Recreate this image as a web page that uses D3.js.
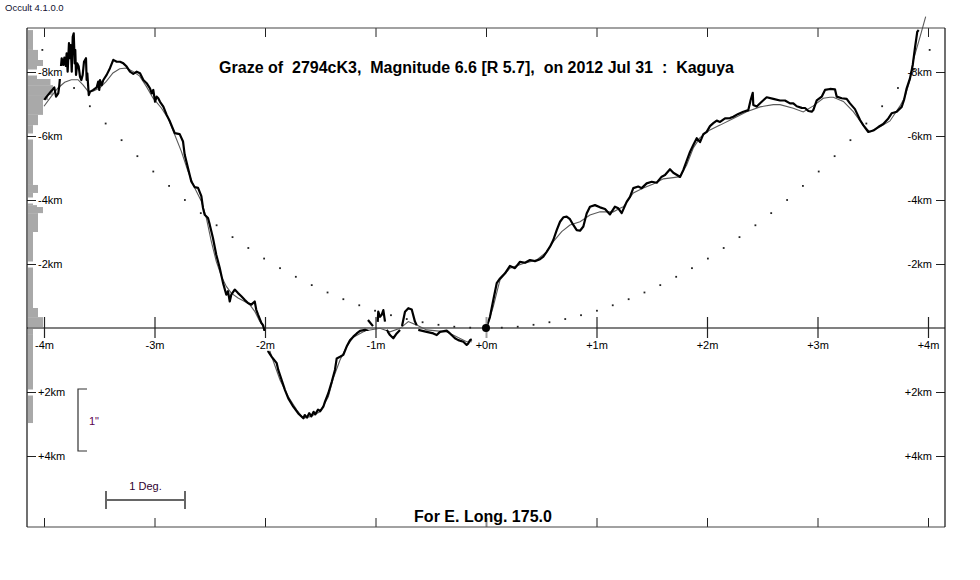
<!DOCTYPE html>
<html><head><meta charset="utf-8">
<script src="https://cdn.jsdelivr.net/npm/d3@7"></script>
<style>
body{margin:0;background:#fff;}
svg{display:block;font-family:"Liberation Sans",Arial,sans-serif;}
</style></head><body>
<svg id="c" width="980" height="580"></svg>
<script>
// ---------- data ----------
const minuteTicks=[-4,-3,-2,-1,0,1,2,3,4];
const minuteLabels=["-4m","-3m","-2m","-1m","+0m","+1m","+2m","+3m","+4m"];
const kmTicks=[-8,-6,-4,-2,2,4];
const kmLabels=["-8km","-6km","-4km","-2km","+2km","+4km"];
const titleText="Graze of  2794cK3,  Magnitude 6.6 [R 5.7],  on 2012 Jul 31  :  Kaguya";
const footText="For E. Long. 175.0";
const versionText="Occult 4.1.0.0";

// histogram of limb points (km bands, relative counts)
const histTopKm   =[-9.31,-8.69,-8.375,-8.06,-7.91,-7.59,-7.28,-7.125,-6.66,-6.34,-5.94,-4.47,-4.22,-3.84,-3.59,-3.0,-0.625,-0.34,0,0.19];
const histBottomKm=[-8.69,-8.375,-8.06,-7.91,-7.59,-7.28,-7.125,-6.66,-6.34,-5.94,-4.47,-4.22,-3.84,-3.59,-3.0,-0.625,-0.34,0,0.19,2.97];
const histCount   =[2,4,6,7,9,10,8,6,4,2,2,4,2,6,4,2,4,6,2,2];

// graze path dots (minutes, km)
const dotMin=[-4.015,-3.872,-3.728,-3.585,-3.442,-3.298,-3.155,-3.011,-2.868,-2.725,-2.581,-2.438,-2.294,-2.151,-2.008,-1.864,-1.721,-1.577,-1.434,-1.291,-1.147,-1.004,-0.860,-0.717,-0.574,-0.430,-0.287,-0.143,0,0.143,0.287,0.430,0.574,0.717,0.860,1.004,1.147,1.291,1.434,1.577,1.721,1.864,2.008,2.151,2.294,2.438,2.581,2.725,2.868,3.011,3.155,3.298,3.442,3.585,3.728,3.872,4.015];
const dotKm=[-8.69,-8.08,-7.50,-6.93,-6.39,-5.87,-5.37,-4.89,-4.44,-4.00,-3.59,-3.21,-2.84,-2.50,-2.17,-1.87,-1.60,-1.34,-1.11,-0.90,-0.71,-0.54,-0.40,-0.28,-0.18,-0.10,-0.04,-0.01,0,-0.01,-0.04,-0.10,-0.18,-0.28,-0.40,-0.54,-0.71,-0.90,-1.11,-1.34,-1.60,-1.87,-2.17,-2.50,-2.84,-3.21,-3.59,-4.00,-4.44,-4.89,-5.37,-5.87,-6.39,-6.93,-7.50,-8.08,-8.69];

// Kaguya limb profile (thick), segments [minutes, km]
const profileWest=[[-3.997,-7.13],[-3.976,-7.23],[-3.930,-7.42],[-3.907,-7.52],[-3.891,-7.23],[-3.871,-7.33],[-3.862,-7.56],[-3.840,-8.43],[-3.825,-8.22],[-3.816,-8.45],[-3.804,-8.19],[-3.795,-8.58],[-3.786,-8.01],[-3.774,-8.90],[-3.765,-8.43],[-3.758,-8.84],[-3.749,-8.01],[-3.740,-9.10],[-3.731,-9.21],[-3.722,-8.27],[-3.717,-8.69],[-3.710,-7.91],[-3.699,-8.27],[-3.686,-8.17],[-3.674,-7.85],[-3.662,-7.75],[-3.650,-7.91],[-3.638,-8.32],[-3.620,-8.43],[-3.614,-7.75],[-3.608,-7.96],[-3.595,-7.28],[-3.584,-7.38],[-3.554,-7.44],[-3.523,-7.52],[-3.509,-7.70],[-3.500,-7.44],[-3.493,-7.75],[-3.478,-7.59],[-3.463,-7.75],[-3.433,-7.91],[-3.403,-8.12],[-3.373,-8.38],[-3.342,-8.32],[-3.312,-8.32],[-3.282,-8.27],[-3.252,-8.17],[-3.222,-8.01],[-3.192,-7.94],[-3.161,-8.01],[-3.131,-7.96],[-3.101,-7.75],[-3.071,-7.65],[-3.041,-7.49],[-3.025,-7.33],[-3.011,-7.44],[-2.995,-7.07],[-2.980,-7.23],[-2.966,-7.18],[-2.950,-7.07],[-2.920,-6.92],[-2.890,-6.66],[-2.860,-6.45],[-2.817,-6.09],[-2.772,-6.06],[-2.742,-5.83],[-2.727,-5.42],[-2.697,-5.00],[-2.667,-4.58],[-2.636,-4.40],[-2.606,-4.38],[-2.576,-4.12],[-2.561,-3.75],[-2.546,-3.54],[-2.516,-3.44],[-2.500,-3.23],[-2.471,-2.81],[-2.441,-2.29],[-2.410,-1.88],[-2.380,-1.41],[-2.350,-1.04],[-2.335,-1.15],[-2.319,-0.83],[-2.305,-1.04],[-2.274,-1.20],[-2.244,-1.09],[-2.214,-0.99],[-2.184,-0.88],[-2.154,-0.78],[-2.124,-0.73],[-2.093,-0.83],[-2.079,-0.57],[-2.063,-0.42],[-2.033,-0.16],[-2.018,-0.09],[-1.991,0.25],[-1.970,0.74],[-1.939,0.90],[-1.894,1.10],[-1.880,1.31],[-1.849,1.63],[-1.819,1.94],[-1.789,2.20],[-1.744,2.46],[-1.699,2.67],[-1.653,2.82],[-1.640,2.72],[-1.620,2.80],[-1.600,2.66],[-1.580,2.76],[-1.560,2.62],[-1.545,2.70],[-1.520,2.55],[-1.500,2.60],[-1.472,2.46],[-1.457,2.30],[-1.427,2.04],[-1.396,1.68],[-1.367,1.31],[-1.351,0.95],[-1.321,0.90],[-1.291,0.84],[-1.261,0.58],[-1.231,0.38],[-1.201,0.27],[-1.170,0.17],[-1.140,0.09],[-1.095,0.06],[-1.065,0.09]];
const profileMid1=[[-1.068,-0.25],[-1.023,-0.06]];
const profileMid2=[[-0.980,-0.19],[-0.975,-0.51],[-0.959,-0.35],[-0.944,-0.41],[-0.929,-0.56],[-0.914,-0.20]];
const profileMid3=[[-0.899,0.06],[-0.869,0.22],[-0.839,0.32],[-0.808,0.17],[-0.778,0.06]];
const profileMid4=[[-0.760,-0.06],[-0.733,-0.51],[-0.703,-0.62],[-0.672,-0.58],[-0.643,-0.20],[-0.627,-0.09]];
const profileMid5=[[-0.613,0.06],[-0.537,0.12],[-0.477,0.17],[-0.446,0.22],[-0.416,0.12],[-0.356,0.08],[-0.326,0.17],[-0.281,0.32],[-0.251,0.38],[-0.205,0.43],[-0.175,0.53],[-0.160,0.48],[-0.145,0.38],[-0.129,0.35]];
const profileEast=[[0,0],[0.021,-0.19],[0.036,-0.35],[0.066,-0.875],[0.097,-1.40],[0.127,-1.55],[0.172,-1.71],[0.217,-1.94],[0.262,-1.87],[0.308,-2.07],[0.353,-2.04],[0.398,-2.125],[0.443,-2.09],[0.489,-2.15],[0.519,-2.23],[0.549,-2.38],[0.579,-2.54],[0.609,-2.75],[0.640,-3.06],[0.670,-3.32],[0.700,-3.46],[0.730,-3.48],[0.760,-3.40],[0.790,-3.22],[0.821,-3.06],[0.851,-3.04],[0.881,-3.17],[0.911,-3.58],[0.941,-3.79],[0.986,-3.84],[1.032,-3.77],[1.077,-3.72],[1.122,-3.55],[1.167,-3.79],[1.197,-3.74],[1.228,-3.59],[1.273,-3.94],[1.303,-4.10],[1.333,-4.37],[1.378,-4.42],[1.409,-4.37],[1.454,-4.52],[1.500,-4.57],[1.545,-4.54],[1.590,-4.73],[1.620,-4.78],[1.665,-4.96],[1.695,-4.85],[1.729,-4.78],[1.756,-4.72],[1.786,-4.94],[1.816,-5.22],[1.846,-5.50],[1.876,-5.72],[1.907,-5.93],[1.937,-5.81],[1.967,-6.06],[1.997,-6.13],[2.027,-6.31],[2.057,-6.40],[2.088,-6.48],[2.118,-6.44],[2.163,-6.55],[2.208,-6.56],[2.238,-6.60],[2.283,-6.69],[2.329,-6.76],[2.374,-6.81],[2.395,-7.125],[2.414,-7.35],[2.419,-6.97],[2.450,-6.92],[2.495,-7.07],[2.540,-7.21],[2.600,-7.16],[2.661,-7.11],[2.706,-7.11],[2.751,-7.02],[2.781,-7.02],[2.812,-6.93],[2.857,-6.88],[2.887,-6.875],[2.917,-6.78],[2.948,-6.76],[2.962,-6.81],[2.993,-7.11],[3.038,-7.23],[3.068,-7.44],[3.113,-7.47],[3.158,-7.46],[3.174,-7.23],[3.219,-7.18],[3.264,-7.16],[3.294,-7.02],[3.339,-6.84],[3.385,-6.50],[3.414,-6.34],[3.460,-6.125],[3.505,-6.17],[3.550,-6.28],[3.595,-6.375],[3.641,-6.55],[3.671,-6.71],[3.717,-6.76],[3.762,-6.91],[3.783,-7.125],[3.807,-7.49],[3.837,-7.80],[3.862,-8.22],[3.882,-8.75],[3.903,-9.26],[3.916,-9.31]];

// smoothed profile (thin grey), segments [minutes, km]
const smoothWest=[[-4.000,-6.93],[-3.934,-7.24],[-3.873,-7.50],[-3.813,-7.68],[-3.753,-7.76],[-3.692,-7.76],[-3.647,-7.60],[-3.602,-7.40],[-3.557,-7.40],[-3.496,-7.50],[-3.436,-7.71],[-3.376,-7.97],[-3.315,-8.10],[-3.255,-8.125],[-3.195,-8.02],[-3.134,-7.87],[-3.074,-7.55],[-3.014,-7.19],[-2.938,-6.875],[-2.878,-6.56],[-2.817,-6.04],[-2.757,-5.52],[-2.697,-4.90],[-2.636,-4.375],[-2.576,-3.96],[-2.531,-3.44],[-2.486,-2.71],[-2.441,-2.08],[-2.395,-1.62],[-2.350,-1.30],[-2.305,-1.09],[-2.244,-0.94],[-2.184,-0.83],[-2.138,-0.73],[-2.093,-0.52],[-2.048,-0.21],[-2.015,-0.04],[-1.985,0.375],[-1.939,0.90],[-1.864,1.625],[-1.789,2.15],[-1.713,2.56],[-1.653,2.82],[-1.593,2.77],[-1.502,2.62],[-1.427,2.15],[-1.382,1.57],[-1.321,1.00],[-1.261,0.58],[-1.201,0.29],[-1.110,0.12],[-1.050,0.06],[-0.959,0.01],[-0.869,0.12],[-0.778,0.01],[-0.703,-0.20],[-0.627,-0.09],[-0.537,0.06],[-0.356,0.12],[-0.175,0.43],[-0.129,0.43]];
const smoothEast=[[0,0.06],[0.066,-0.67],[0.111,-1.29],[0.127,-1.50],[0.217,-1.87],[0.338,-2.02],[0.459,-2.125],[0.549,-2.38],[0.609,-2.70],[0.685,-3.01],[0.760,-3.22],[0.851,-3.32],[0.941,-3.53],[1.032,-3.63],[1.152,-3.63],[1.213,-3.74],[1.243,-3.79],[1.333,-4.22],[1.424,-4.375],[1.514,-4.50],[1.605,-4.66],[1.695,-4.70],[1.756,-4.73],[1.816,-5.09],[1.876,-5.625],[1.937,-5.95],[2.027,-6.19],[2.118,-6.34],[2.238,-6.55],[2.359,-6.76],[2.480,-6.91],[2.600,-6.98],[2.661,-6.98],[2.781,-6.87],[2.871,-6.75],[2.962,-6.94],[3.052,-7.18],[3.113,-7.21],[3.143,-7.21],[3.234,-7.08],[3.324,-6.76],[3.414,-6.33],[3.475,-6.13],[3.566,-6.29],[3.656,-6.47],[3.747,-6.94],[3.792,-7.23],[3.837,-7.75],[3.867,-8.375],[3.928,-9.10],[3.979,-9.73]];

// ---------- drawing ----------
const frame={left:27,top:28,right:945,bottom:527};
const x=d3.scaleLinear().domain([-4,4]).range([44,928]);
const y=d3.scaleLinear().domain([-8,4]).range([72,456]);
const hx=d3.scaleLinear().domain([0,10]).range([frame.left+1,frame.left+26]);
const svg=d3.select("#c");

// histogram
svg.append("g").selectAll("rect").data(histCount).join("rect")
  .attr("x",hx(0)).attr("y",(d,i)=>y(histTopKm[i]))
  .attr("width",d=>hx(d)-hx(0))
  .attr("height",(d,i)=>y(histBottomKm[i])-y(histTopKm[i]))
  .attr("fill","#a9a9a9");

// zero line
svg.append("line").attr("x1",frame.left).attr("x2",frame.right)
  .attr("y1",y(0)).attr("y2",y(0)).attr("stroke","#808080").attr("stroke-width",2);

// dots
svg.append("g").selectAll("rect").data(dotMin).join("rect")
  .attr("x",d=>x(d)-0.9).attr("y",(d,i)=>y(dotKm[i])-0.9)
  .attr("width",1.8).attr("height",1.8).attr("fill","#222");

const line=d3.line().x(d=>x(d[0])).y(d=>y(d[1]));
// smoothed line
svg.append("g").selectAll("path").data([smoothWest,smoothEast]).join("path")
  .attr("d",line).attr("fill","none").attr("stroke","#5a5a5a").attr("stroke-width",1.1);
// observed profile
svg.append("g").selectAll("path").data([profileWest,profileMid1,profileMid2,profileMid3,profileMid4,profileMid5,profileEast]).join("path")
  .attr("d",line).attr("fill","none").attr("stroke","#000").attr("stroke-width",2.2)
  .attr("stroke-linejoin","round");

// minute axis on zero line
const mAxis=svg.append("g").attr("transform",`translate(0,${y(0)})`)
  .call(d3.axisBottom(x).tickValues(minuteTicks).tickFormat((d,i)=>minuteLabels[i]).tickSize(10).tickPadding(3));
mAxis.select(".domain").remove();
mAxis.selectAll("text").attr("font-size",11).attr("font-family","Liberation Sans, Arial, sans-serif").attr("fill","#000");
mAxis.selectAll(".tick").each(function(d){
  const g=d3.select(this);
  const bb=g.select("text").node().getBBox();
  g.insert("rect","line").attr("x",bb.x-1).attr("y",3).attr("width",bb.width+2).attr("height",bb.y+bb.height-3).attr("fill","#fff");
  g.select("line").attr("y1",-11).attr("y2",10)
    .attr("stroke",d===0?"#a0a0a0":"#222").attr("stroke-width",d===0?2:1.2);
});
// origin marker
svg.append("circle").attr("cx",x(0)).attr("cy",y(0)).attr("r",4).attr("fill","#000");

// top / bottom frame ticks
const tAxis=svg.append("g").attr("transform",`translate(0,${frame.top})`)
  .call(d3.axisBottom(x).tickValues(minuteTicks).tickFormat("").tickSize(9));
tAxis.select(".domain").remove();
tAxis.selectAll("line").attr("stroke","#222");
const bAxis=svg.append("g").attr("transform",`translate(0,${frame.bottom})`)
  .call(d3.axisTop(x).tickValues(minuteTicks).tickFormat("").tickSize(9));
bAxis.select(".domain").remove();
bAxis.selectAll(".tick line").attr("stroke",d=>d===0?"#909090":"#222").attr("stroke-width",d=>d===0?2:1);

// km axes
const lAxis=svg.append("g").attr("transform",`translate(${frame.left},0)`)
  .call(d3.axisRight(y).tickValues(kmTicks).tickFormat((d,i)=>kmLabels[i]).tickSize(9).tickPadding(2));
lAxis.select(".domain").remove();
lAxis.selectAll("text").attr("font-size",11).attr("font-family","Liberation Sans, Arial, sans-serif").attr("fill","#000");
lAxis.selectAll(".tick").each(function(){
  const g=d3.select(this);
  const bb=g.select("text").node().getBBox();
  g.insert("rect","line").attr("x",1).attr("y",-3).attr("width",9).attr("height",6).attr("fill","#fff");
  g.insert("rect","line").attr("x",bb.x-1).attr("y",-6.5).attr("width",bb.width+3).attr("height",13).attr("fill","#fff");
});
lAxis.selectAll("line").attr("stroke","#222");
const rAxis=svg.append("g").attr("transform",`translate(${frame.right},0)`)
  .call(d3.axisLeft(y).tickValues(kmTicks).tickFormat((d,i)=>kmLabels[i]).tickSize(9).tickPadding(4));
rAxis.select(".domain").remove();
rAxis.selectAll("text").attr("font-size",11).attr("font-family","Liberation Sans, Arial, sans-serif").attr("fill","#000");
rAxis.selectAll("line").attr("stroke","#222");

// frame
svg.append("line").attr("x1",frame.left).attr("x2",frame.right).attr("y1",frame.top).attr("y2",frame.top).attr("stroke","#444").attr("stroke-width",1.2);
svg.append("line").attr("x1",frame.left).attr("x2",frame.right).attr("y1",frame.bottom).attr("y2",frame.bottom).attr("stroke","#444").attr("stroke-width",1.2);
svg.append("line").attr("x1",frame.left).attr("x2",frame.left).attr("y1",frame.top).attr("y2",frame.bottom).attr("stroke","#111").attr("stroke-width",1.2);
svg.append("line").attr("x1",frame.right).attr("x2",frame.right).attr("y1",frame.top).attr("y2",frame.bottom).attr("stroke","#111").attr("stroke-width",1.2);

// 1" bracket
const br=svg.append("g").attr("stroke","#333").attr("stroke-width",1.2).attr("fill","none");
br.append("path").attr("d","M87,389H78V451H87");
svg.append("text").attr("x",89).attr("y",425).attr("font-size",11).attr("fill","#5a0050").text("1\"");
// 1 Deg scale bar
const sb=svg.append("g").attr("stroke","#666").attr("stroke-width",2);
sb.append("line").attr("x1",106).attr("x2",185).attr("y1",500).attr("y2",500);
sb.append("line").attr("x1",106).attr("x2",106).attr("y1",491).attr("y2",509);
sb.append("line").attr("x1",185).attr("x2",185).attr("y1",491).attr("y2",509);
svg.append("text").attr("x",145.5).attr("y",490).attr("text-anchor","middle").attr("font-size",11).attr("fill","#300030").text("1 Deg.");

// titles
svg.append("text").attr("x",476.5).attr("y",73).attr("text-anchor","middle")
  .attr("font-size",16).attr("font-weight","bold").style("white-space","pre").text(titleText);
svg.append("text").attr("x",483).attr("y",522).attr("text-anchor","middle")
  .attr("font-size",16).attr("font-weight","bold").text(footText);
svg.append("text").attr("x",5).attr("y",11).attr("font-size",9.5).attr("fill","#101030").text(versionText);
</script>
</body></html>
